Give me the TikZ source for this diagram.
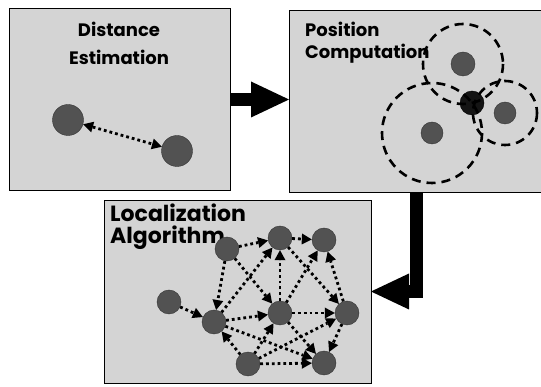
\documentclass[tikz,border=0pt]{standalone}
\usepackage{fontspec}
\newfontfamily\labelfont{Poppins}
\usetikzlibrary{arrows.meta}

\begin{document}
\begin{tikzpicture}[x=1pt,y=-1pt,
  panelfill/.style={fill=black!17},
  panelline/.style={draw=black, line width=0.9pt},
  steptitle/.style={font=\labelfont\bfseries\fontsize{#1}{#1}\selectfont, anchor=base west, inner sep=0pt},
  steptitle/.default=18,
  sensor/.style={circle, fill=black!68, draw=black!80, line width=0.4pt, minimum size=#1, inner sep=0pt},
  sensor/.default=24pt,
  unknownpos/.style={circle, fill=black!92, draw=black, line width=0.4pt, minimum size=24pt, inner sep=0pt},
  netlink/.style={line width=2.8pt, dash pattern=on 2.8pt off 3pt,
    -{Triangle[length=10pt,width=11pt,line width=0pt]}},
  twoway/.style={netlink, {Triangle[length=10pt,width=11pt,line width=0pt]}-{Triangle[length=10pt,width=11pt,line width=0pt]}},
  rangering/.style={line width=2.6pt, dash pattern=on 9pt off 6pt},
  bigarrow/.style={line width=13pt, -{Triangle[length=38pt,width=36pt,line width=0pt]}}
]
\useasboundingbox (0,0) rectangle (541,387);

% panels
\path[panelfill] (9,8) rectangle (230,190);
\draw[panelline] (9,8) rectangle (230,190);
\path[panelfill] (289,10) rectangle (541,192);
\draw[panelline] (541,10) -- (289,10) -- (289,192) -- (541,192);
\path[panelfill] (104,200) rectangle (371,383);
\draw[panelline] (104,200) rectangle (371,383);
\coordinate (p1e) at (230,99.5);
\coordinate (p2w) at (289,99.5);
\coordinate (p2s) at (416.5,192);
\coordinate (p3e) at (371,291.5);

% step arrows between panels
\draw[bigarrow] (p1e) -- (p2w);
\draw[bigarrow] (p2s) |- (p3e);

% titles
\node[steptitle, anchor=base] (t1a) at (119,37) {Distance};
\node[steptitle, anchor=base] (t1b) at (119,65) {Estimation};
\node[steptitle] (t2a) at (305,37) {Position};
\node[steptitle] (t2b) at (305,59) {Computation};
\node[steptitle=22] (t3a) at (110,222) {Localization};
\node[steptitle=22] (t3b) at (110,244) {Algorithm};

% distance estimation
\node[sensor=31pt] (d1) at (68,120) {};
\node[sensor=31pt] (d2) at (177,151) {};
\draw[twoway] (d1) -- (d2);

% position computation
\node[sensor] (r1) at (463,64) {};
\node[sensor=22pt] (r2) at (505,113) {};
\node[sensor=22pt] (r3) at (432,133) {};
\node[unknownpos] (u) at (472,103) {};
\draw[rangering] (r1.center) circle[radius=40];
\draw[rangering] (r2.center) circle[radius=32];
\draw[rangering] (r3.center) circle[radius=50];

% localization network
\node[sensor] (a) at (227,249) {};
\node[sensor] (b) at (280,238) {};
\node[sensor] (c) at (324,240) {};
\node[sensor] (d) at (169,302) {};
\node[sensor] (e) at (214,322) {};
\node[sensor] (f) at (280,313) {};
\node[sensor] (g) at (347,313) {};
\node[sensor] (h) at (248,364) {};
\node[sensor] (i) at (324,363) {};
\foreach \s/\t in {a/b, b/c, a/e, a/f, d/e, e/b, e/f, f/b, b/g, f/c, g/c,
                   f/g, h/f, h/g, h/i, f/i, g/i, e/i, h/e}
  \draw[netlink] (\s) -- (\t);
\end{tikzpicture}
\end{document}
